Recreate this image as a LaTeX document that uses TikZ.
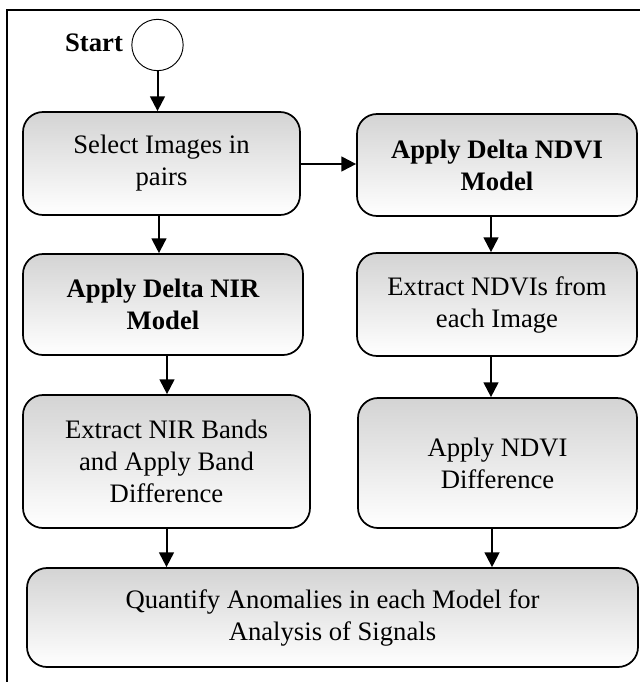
\documentclass[tikz,border=0pt]{standalone}
\usepackage{fontspec}
\setmainfont{Liberation Serif}
\usetikzlibrary{arrows.meta}
\begin{document}
\begin{tikzpicture}[x=0.75pt,y=-0.75pt,
  font=\fontsize{20}{24}\selectfont,
  procbox/.style={draw, line width=1.3pt, rounded corners=15pt, top color=black!17, bottom color=white, align=center, inner sep=2pt},
  arr/.style={line width=1.5pt, -{Triangle[length=11pt,width=11pt]}},
  startcircle/.style={draw, circle, line width=0.7pt, minimum size=38.5pt, inner sep=0pt}
]
\useasboundingbox (0,0) rectangle (640,682);
\draw[line width=1.5pt] (7,682) -- (7,10) -- (640,10);

\node[font=\fontsize{20}{24}\selectfont\bfseries] (startlbl) at (94,43) {Start};
\node[startcircle] (start) at (157.5,45) {};

\node[procbox, minimum width=207.75pt, minimum height=77.25pt] (sel) at (161.5,163.5) {Select Images in\\pairs};
\node[procbox, minimum width=210pt, minimum height=75.75pt, font=\fontsize{20}{24}\selectfont\bfseries] (nir) at (163,304.5) {Apply Delta NIR\\Model};
\node[procbox, minimum width=210pt, minimum height=76.5pt, font=\fontsize{20}{24}\selectfont\bfseries] (ndvi) at (497,165) {Apply Delta NDVI\\Model};
\node[procbox, minimum width=210pt, minimum height=77.25pt] (ndvis) at (497,304.5) {Extract NDVIs from\\each Image};
\node[procbox, minimum width=215.25pt, minimum height=99.75pt] (ext) at (166.5,461.5) {Extract NIR Bands\\and Apply Band\\Difference};
\node[procbox, minimum width=209.25pt, minimum height=97.5pt] (diff) at (497.5,463) {Apply NDVI\\Difference};
\node[procbox, minimum width=458.25pt, minimum height=74.25pt] (quant) at (332.5,617.5) {Quantify Anomalies in each Model for\\Analysis of Signals};

\draw[arr] (start.south) -- (start.south |- sel.north);
\draw[arr] (sel.east |- 0,164) -- (ndvi.west |- 0,164);
\draw[arr] ([xshift=-1.9pt]sel.south) -- ([xshift=-1.9pt]sel.south |- nir.north);
\draw[arr] ([xshift=3pt]nir.south) -- ([xshift=3pt]nir.south |- ext.north);
\draw[arr] ([xshift=-4.5pt]ndvi.south) -- ([xshift=-4.5pt]ndvi.south |- ndvis.north);
\draw[arr] ([xshift=-4.5pt]ndvis.south) -- ([xshift=-4.5pt]ndvis.south |- diff.north);
\draw[arr] (ext.south) -- (ext.south |- quant.north);
\draw[arr] ([xshift=-4.1pt]diff.south) -- ([xshift=-4.1pt]diff.south |- quant.north);
\end{tikzpicture}
\end{document}
